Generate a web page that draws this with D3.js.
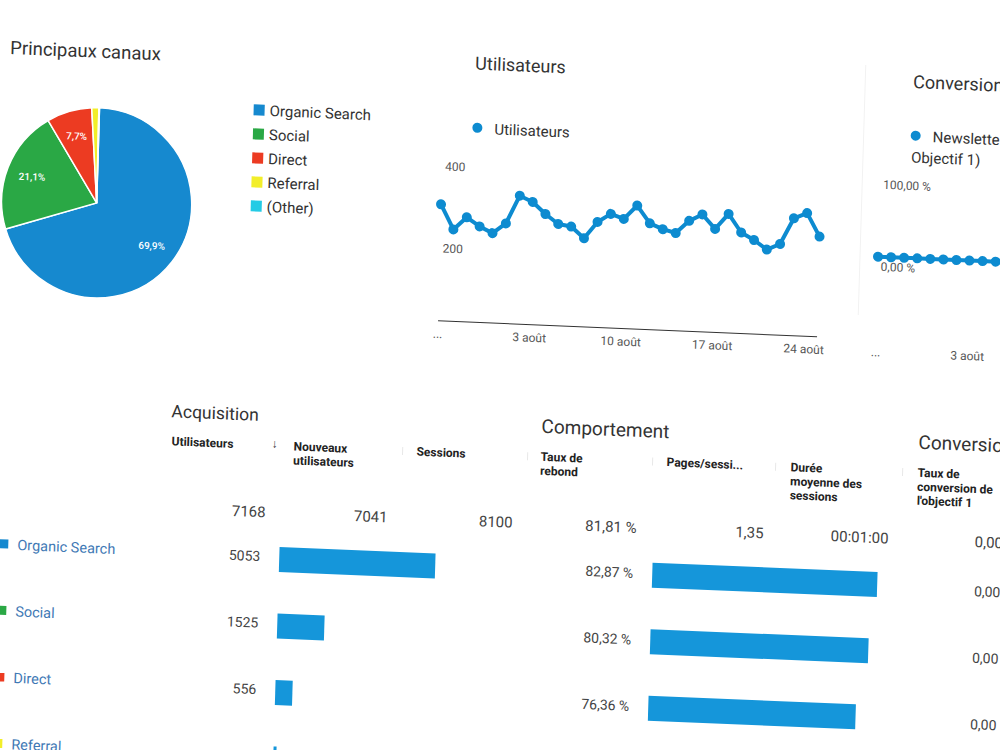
<!DOCTYPE html>
<html>
<head>
<meta charset="utf-8">
<script src="https://cdn.jsdelivr.net/npm/d3@7"></script>
<style>
  body { margin: 0; background: #fff; }
  text { font-family: Roboto, "Noto Sans", sans-serif; }
</style>
</head>
<body>
<script>
// pie : principaux canaux (% des sessions)
const channels = ["Organic Search", "Social", "Direct", "Referral", "(Other)"];
const channelColors = ["#1689cf", "#2aa845", "#ec3b22", "#f2ee2a", "#24cbe5"];
const channelShare = [69.9, 21.1, 7.7, 1.2, 0.1];

// courbes journalieres, 27 juil. -> 25 aout
const firstDay = new Date(2019, 6, 27), lastDay = new Date(2019, 7, 25);
const dailyUsers = [283, 223, 254, 233, 218, 243, 312, 298, 270, 247, 242, 215, 256, 277, 266,
                    300, 258, 245, 237, 268, 285, 251, 289, 245, 228, 206, 221, 285, 299, 243];
const dailyConv = [0, 0, 0, 0, 0, 0, 0, 0, 0, 0, 0, 0, 0, 0, 0,
                   0, 0, 0, 0, 0, 0, 0, 0, 0, 0, 0, 0, 0, 0, 0];
const monthNames = ["janv.", "févr.", "mars", "avr.", "mai", "juin", "juil.", "août", "sept.", "oct.", "nov.", "déc."];

// tableau
const tableChannels = ["Organic Search", "Social", "Direct", "Referral"];
const tableColors = ["#1689cf", "#2aa845", "#ec3b22", "#f2ee2a"];
const rowUsers = [5053, 1525, 556, 97];
const rowBounce = [82.87, 80.32, 76.36];
const rowConv = [0, 0, 0, 0];
const colHeaders = [["Utilisateurs"], ["Nouveaux", "utilisateurs"], ["Sessions"], ["Taux de", "rebond"],
                    ["Pages/sessi..."], ["Durée", "moyenne des", "sessions"], ["Taux de", "conversion de", "l'objectif 1"]];
const totalUsers = 7168, totalNewUsers = 7041, totalSessions = 8100;
const totalBounce = 81.81, totalPages = 1.35, totalDuration = "00:01:00", totalConv = 0;

const fr = d3.formatLocale({decimal: ",", thousands: "", grouping: [3], currency: ["", " €"]});
const pct1 = fr.format(".1f"), num2 = fr.format(".2f"), int = fr.format("d");

const width = 1000, height = 750;
const svg = d3.select("body").append("svg")
  .attr("width", width)
  .attr("height", height);

// the screen was photographed a bit tilted
const g = svg.append("g").attr("transform", "matrix(1,0.042,-0.03,1,11.25,-21)");

// ---------- Principaux canaux ----------
g.append("text").attr("x", 1).attr("y", 75).attr("font-size", 18.5).attr("fill", "#333").text("Principaux canaux");

const r = 95;
const arcs = d3.pie().sort(null).value(d => d)(channelShare);
const arc = d3.arc().innerRadius(0).outerRadius(r);
const labelArc = d3.arc().innerRadius(r * 0.73).outerRadius(r * 0.73);
const pieG = g.append("g").attr("transform", "translate(92,220)");
pieG.selectAll("path").data(arcs).join("path")
  .attr("d", arc)
  .attr("fill", (d, i) => channelColors[i])
  .attr("stroke", "#fff")
  .attr("stroke-width", 1.5);
pieG.selectAll("text").data(arcs.filter(d => d.data > 5)).join("text")
  .attr("transform", d => `translate(${labelArc.centroid(d)})`)
  .attr("text-anchor", "middle")
  .attr("dy", "0.35em")
  .attr("font-size", 10)
  .attr("font-weight", 500)
  .attr("fill", "#fff")
  .text(d => pct1(d.data) + "%");

const leg = g.append("g").selectAll("g").data(channels).join("g")
  .attr("transform", (d, i) => `translate(246,${121 + i * 24})`);
leg.append("rect").attr("x", 0).attr("y", -6).attr("width", 11).attr("height", 11)
  .attr("fill", (d, i) => channelColors[i]);
leg.append("text").attr("x", 16).attr("y", 5).attr("font-size", 15).attr("fill", "#333").text(d => d);

// ---------- courbes ----------
function lineChart(x0, title, legendLines, legendY, values, y, yTicks, yFormat, showDomain) {
  const x = d3.scaleTime().domain([firstDay, lastDay]).range([x0, x0 + 379]);
  const days = d3.timeDay.range(firstDay, d3.timeDay.offset(lastDay, 1));
  const data = days.map((d, i) => ({date: d, value: values[i]}));

  g.append("text").attr("x", x0 + 30).attr("y", 71).attr("font-size", 18).attr("fill", "#333").text(title);

  g.append("circle").attr("cx", x0 + 34).attr("cy", legendY).attr("r", 5).attr("fill", "#0d8bd0");
  const lt = g.append("text").attr("font-size", 15).attr("fill", "#333");
  legendLines.forEach((t, i) => {
    lt.append("tspan").attr("x", i == 0 ? x0 + 51 : x0 + 30).attr("y", legendY + 6 + i * 21).text(t);
  });

  g.append("g").selectAll("text").data(yTicks).join("text")
    .attr("x", x0 + 3).attr("y", d => y(d) + 14)
    .attr("font-size", 12).attr("fill", "#555")
    .text(yFormat);

  const axis = g.append("g").attr("transform", `translate(0,${y.range()[0]})`)
    .call(d3.axisBottom(x).ticks(d3.timeSaturday).tickSize(0).tickPadding(9)
      .tickFormat((d, i) => i == 0 ? "..." : d.getDate() + " " + monthNames[d.getMonth()]));
  axis.selectAll("text").attr("font-size", 12).attr("fill", "#555").attr("font-family", null);
  axis.select(".domain").attr("stroke", showDomain ? "#333" : "none");

  g.append("path").datum(data)
    .attr("fill", "none")
    .attr("stroke", "#0d8bd0")
    .attr("stroke-width", 4)
    .attr("stroke-linejoin", "round")
    .attr("d", d3.line().x(d => x(d.date)).y(d => y(d.value)));
  g.append("g").selectAll("circle").data(data).join("circle")
    .attr("cx", d => x(d.date)).attr("cy", d => y(d.value)).attr("r", 5)
    .attr("fill", "#0d8bd0");
}

lineChart(436, "Utilisateurs", ["Utilisateurs"], 129, dailyUsers,
  d3.scaleLinear().domain([0, 400]).range([323, 159]), [200, 400], d => d, true);

g.append("line").attr("x1", 856).attr("x2", 856).attr("y1", 50).attr("y2", 300)
  .attr("stroke", "#f2f2f2");

lineChart(874, "Conversions", ["Newsletter (Objectif 1)", "Objectif 1)"], 118.5, dailyConv,
  d3.scaleLinear().domain([-100, 100]).range([323, 159]), [0, 100], d => num2(d) + " %", false);

// ---------- tableau ----------
const sections = [["Acquisition", 173], ["Comportement", 543], ["Conversions", 920]];
g.append("g").selectAll("text").data(sections).join("text")
  .attr("x", d => d[1]).attr("y", 431)
  .attr("font-size", d => d[0] == "Acquisition" ? 17.5 : 19)
  .attr("fill", "#333").text(d => d[0]);

const colX = [174, 296, 419, 543, 669, 793, 920];
const hdr = g.append("g").selectAll("text").data(colHeaders).join("text")
  .attr("font-size", 12).attr("font-weight", "bold").attr("fill", "#222");
hdr.each(function(lines, j) {
  d3.select(this).selectAll("tspan").data(lines).join("tspan")
    .attr("x", colX[j]).attr("y", (d, i) => 459 + i * 14).text(d => d);
});
g.append("text").attr("x", 274).attr("y", 457).attr("font-size", 12).attr("font-weight", "bold")
  .attr("fill", "#333").text("↓");
g.append("g").selectAll("line").data([405, 530, 655, 778, 905]).join("line")
  .attr("x1", d => d).attr("x2", d => d).attr("y1", 451).attr("y2", 459)
  .attr("stroke", "#e8e8e8");

const totals = [int(totalUsers), int(totalNewUsers), int(totalSessions), num2(totalBounce) + " %",
                num2(totalPages), totalDuration, num2(totalConv) + " %"];
const totalsRight = [270, 392, 517, 641, 768, 893, 1022];
g.append("g").selectAll("text").data(totals).join("text")
  .attr("x", (d, i) => totalsRight[i]).attr("y", 527)
  .attr("text-anchor", "end").attr("font-size", 15).attr("fill", "#444")
  .text(d => d);

const rowY = d3.scalePoint().domain(tableChannels).range([556, 556 + 66.5 * 3]);
const barH = 25;
const usersX = d3.scaleLinear().domain([0, d3.max(rowUsers)]).range([0, 156]);
const bounceX = d3.scaleLinear().domain([0, d3.max(rowBounce)]).range([0, 225]);

const rows = g.append("g").selectAll("g").data(tableChannels).join("g")
  .attr("transform", d => `translate(0,${rowY(d)})`);
rows.append("rect").attr("x", 5).attr("y", 4).attr("width", 9).attr("height", 9)
  .attr("fill", (d, i) => tableColors[i]);
rows.append("text").attr("x", 23).attr("y", 14).attr("font-size", 14.5).attr("fill", "#3f79b5")
  .text(d => d);

rows.append("text").attr("x", 266).attr("y", 15).attr("text-anchor", "end")
  .attr("font-size", 14).attr("fill", "#444").text((d, i) => int(rowUsers[i]));
rows.append("rect").attr("x", 285).attr("y", 0)
  .attr("width", (d, i) => Math.max(2, usersX(rowUsers[i]))).attr("height", barH)
  .attr("fill", "#1596da");

rows.filter((d, i) => rowBounce[i] != null).each(function(d, i) {
  const row = d3.select(this);
  row.append("text").attr("x", 639).attr("y", 16).attr("text-anchor", "end")
    .attr("font-size", 14).attr("fill", "#444").text(num2(rowBounce[i]) + " %");
  row.append("rect").attr("x", 658).attr("y", 0)
    .attr("width", bounceX(rowBounce[i])).attr("height", barH)
    .attr("fill", "#1596da");
});

rows.append("text").attr("x", 1020).attr("y", 20).attr("text-anchor", "end")
  .attr("font-size", 14).attr("fill", "#444").text((d, i) => num2(rowConv[i]) + " %");
</script>
</body>
</html>
